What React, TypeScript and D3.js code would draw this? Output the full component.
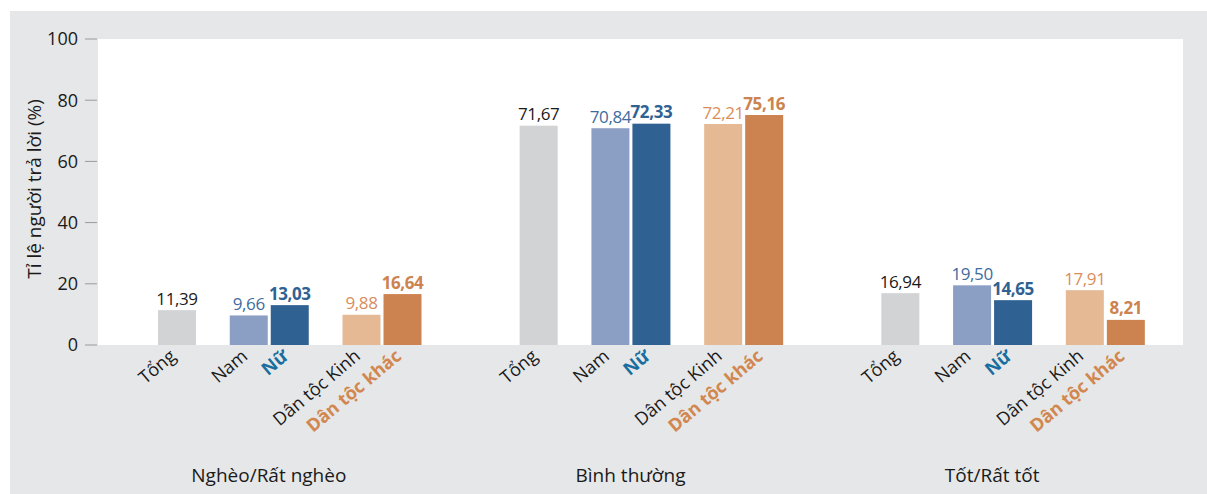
import React from "react";
import * as d3 from "d3";

// ---- data ----
const groups = ["Nghèo/Rất nghèo", "Bình thường", "Tốt/Rất tốt"];
const subgroups = ["Tổng", "Nam", "Nữ", "Dân tộc Kinh", "Dân tộc khác"];
const tong = [11.39, 71.67, 16.94];
const nam = [9.66, 70.84, 19.5];
const nu = [13.03, 72.33, 14.65];
const kinh = [9.88, 72.21, 17.91];
const khac = [16.64, 75.16, 8.21];
const yTicks = [0, 20, 40, 60, 80, 100];
const yTitle = "Tỉ lệ người trả lời (%)";

const series = [tong, nam, nu, kinh, khac];

// ---- style / layout ----
const W = 1207;
const H = 494;
const FONT = "'Open Sans', 'Noto Sans', sans-serif";
const plot = { left: 98, right: 1183, top: 39, bottom: 345 };
const slotPos = [0, 1.75, 2.75, 4.5, 5.5];
const barW = 38;
const groupInset = 60;
const barColors = ["#D1D3D4", "#8B9FC5", "#2F6292", "#E5B994", "#CC834F"];
const valueColors = ["#1a1a1a", "#3D6C9E", "#2F6292", "#D98D5C", "#CC834F"];
const valueWeights = [400, 400, 700, 400, 700];
const tickColors = ["#1a1a1a", "#1a1a1a", "#186E9F", "#1a1a1a", "#D1874F"];
const tickWeights = [400, 400, 700, 400, 700];

const locale = d3.formatLocale({
  decimal: ",",
  thousands: ".",
  grouping: [3],
  currency: ["", ""],
});
const fmt = locale.format(".2f");

export default function App() {
  const y = d3.scaleLinear().domain([0, 100]).range([plot.bottom, plot.top]);
  const x0 = d3.scaleBand<string>().domain(groups).range([plot.left, plot.right]).padding(0);
  const slot = d3.scaleLinear().domain([0, 1]).range([0, 41]);

  return (
    <svg
      width={W}
      height={H}
      style={{ position: "absolute", left: 0, top: 0, fontFamily: FONT }}
    >
      <rect x={0} y={0} width={W} height={H} fill="#ffffff" />
      <rect x={10} y={11} width={W - 10} height={H - 11} fill="#E6E7E8" />
      <rect
        x={plot.left}
        y={plot.top}
        width={plot.right - plot.left}
        height={plot.bottom - plot.top}
        fill="#ffffff"
      />
      {/* y axis */}
      {yTicks.map((t) => (
        <g key={t}>
          <line x1={85} x2={97} y1={y(t)} y2={y(t)} stroke="#9a9a9a" strokeWidth={1} />
          <text
            x={78}
            y={y(t)}
            dy="0.35em"
            textAnchor="end"
            fontSize={18}
            fill="#1a1a1a"
          >
            {t}
          </text>
        </g>
      ))}
      <text
        transform={`translate(41, ${(plot.top + plot.bottom) / 2 - 3}) rotate(-90)`}
        textAnchor="middle"
        fontSize={19}
        fill="#1a1a1a"
      >
        {yTitle}
      </text>

      {groups.map((g, gi) => {
        const gx = (x0(g) as number) + groupInset;
        return (
          <g key={g}>
            {subgroups.map((s, si) => {
              const v = series[si][gi];
              const bx = gx + slot(slotPos[si]);
              const cx = bx + barW / 2;
              return (
                <g key={s}>
                  <rect
                    x={bx}
                    y={y(v)}
                    width={barW}
                    height={y(0) - y(v)}
                    fill={barColors[si]}
                  />
                  <text
                    x={cx}
                    y={y(v) - 5.5}
                    textAnchor="middle"
                    fontSize={17}
                    letterSpacing={-0.4}
                    fontWeight={valueWeights[si]}
                    fill={valueColors[si]}
                  >
                    {fmt(v)}
                  </text>
                  <text
                    transform={`translate(${cx}, ${plot.bottom + 13}) rotate(-40)`}
                    textAnchor="end"
                    fontSize={18}
                    fontWeight={tickWeights[si]}
                    fill={tickColors[si]}
                  >
                    {s}
                  </text>
                </g>
              );
            })}
            <text
              x={(x0(g) as number) + x0.bandwidth() / 2 - 10}
              y={482}
              textAnchor="middle"
              fontSize={19}
              fill="#1a1a1a"
            >
              {g}
            </text>
          </g>
        );
      })}
    </svg>
  );
}
